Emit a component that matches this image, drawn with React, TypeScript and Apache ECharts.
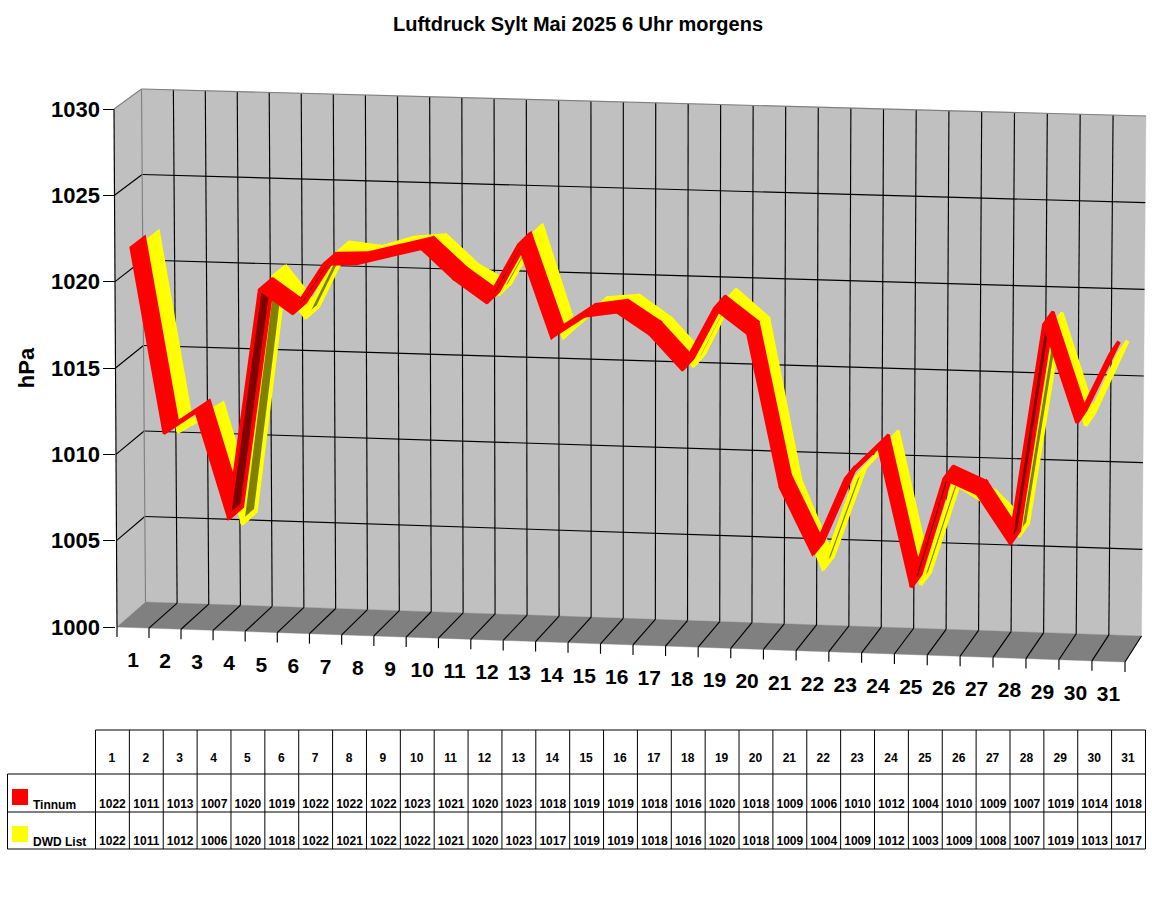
import React, { useEffect, useRef } from "react";
import * as echarts from "echarts";

const TITLE = "Luftdruck Sylt Mai 2025 6 Uhr morgens";
const days = Array.from({ length: 31 }, (_, i) => String(i + 1));
const pressureTicks = [1005, 1010, 1015, 1020, 1025];

// values (plotted with decimals)
const tinnumPlot = [1022.0, 1011.3, 1012.6, 1006.5, 1019.8, 1018.5, 1021.4, 1021.5, 1022.0, 1022.5, 1020.8, 1019.5, 1022.9, 1017.6, 1018.9, 1019.2, 1018.0, 1016.0, 1019.6, 1018.2, 1009.4, 1005.6, 1010.0, 1011.9, 1003.9, 1010.2, 1009.4, 1006.6, 1019.3, 1013.7, 1017.7];
const dwdPlot = [1021.7, 1010.7, 1011.8, 1005.5, 1019.9, 1017.6, 1021.4, 1021.2, 1021.8, 1022.0, 1020.3, 1019.3, 1022.7, 1016.9, 1018.6, 1018.8, 1017.5, 1015.5, 1019.3, 1017.7, 1008.4, 1004.0, 1009.3, 1011.4, 1003.3, 1009.2, 1008.1, 1006.3, 1018.5, 1012.8, 1017.0];
// values printed in the data table
const tinnumTable = [1022, 1011, 1013, 1007, 1020, 1019, 1022, 1022, 1022, 1023, 1021, 1020, 1023, 1018, 1019, 1019, 1018, 1016, 1020, 1018, 1009, 1006, 1010, 1012, 1004, 1010, 1009, 1007, 1019, 1014, 1018];
const dwdTable = [1022, 1011, 1012, 1006, 1020, 1018, 1022, 1021, 1022, 1022, 1021, 1020, 1023, 1017, 1019, 1019, 1018, 1016, 1020, 1018, 1009, 1004, 1009, 1012, 1003, 1009, 1008, 1007, 1019, 1013, 1017];

const FONT = '"Liberation Sans", Arial, sans-serif';
const GL = 115, GT = 109, GW = 1008, GH = 518;
const GB = GT + GH;

type P = [number, number];
const lerp = (a: P, b: P, t: number): P => [a[0] + (b[0] - a[0]) * t, a[1] + (b[1] - a[1]) * t];
// projected box corners
const FB0: P = [117, 627], FB1: P = [1125, 662];
const FT0: P = [114, 109], FT1: P = [1128, 142];
const BB0: P = [145.5, 602], BB1: P = [1141.5, 636];
const BT0: P = [141.5, 89], BT1: P = [1146, 116];
const PERSPECTIVE = 0.017;
function project(uIn: number, v: number, d: number): P {
  const u = uIn / (1 + PERSPECTIVE * (1 - uIn));
  const bottom = lerp(lerp(FB0, FB1, u), lerp(BB0, BB1, u), d);
  const top = lerp(lerp(FT0, FT1, u), lerp(BT0, BT1, u), d);
  return lerp(bottom, top, v);
}
const toUV = (c: number[]) => [(c[0] - GL) / GW, (GB - c[1]) / GH];

function sceneItem(_p: any, api: any) {
  const children: any[] = [];
  const poly = (points: P[], fill: string) => children.push({ type: "polygon", shape: { points }, style: { fill, stroke: fill, lineWidth: 0.4 } });
  const line = (a: P, b: P, stroke = "#000", lineWidth = 1.15) =>
    children.push({ type: "line", shape: { x1: a[0], y1: a[1], x2: b[0], y2: b[1] }, style: { stroke, lineWidth } });
  poly([project(0, 0, 1), project(1, 0, 1), project(1, 1, 1), project(0, 1, 1)], "#C0C0C0");
  poly([project(0, 0, 0), project(0, 0, 1), project(0, 1, 1), project(0, 1, 0)], "#C0C0C0");
  poly([project(0, 0, 0), project(1, 0, 0), project(1, 0, 1), project(0, 0, 1)], "#808080");
  pressureTicks.forEach((t) => {
    const v = toUV(api.coord([0, t]))[1];
    line(project(0, v, 0), project(0, v, 1));
    line(project(0, v, 1), project(1, v, 1));
  });
  const n = days.length;
  for (let k = 0; k <= n; k++) {
    const u = k / n;
    if (k > 0 && k < n) line(project(u, 0, 1), project(u, 1, 1));
    if (k > 0) line(project(u, 0, 0), project(u, 0, 1));
    const f = project(u, 0, 0);
    line(f, [f[0], f[1] + 10]);
  }
  line(project(0, 0, 0), project(0, 1, 0));
  line(project(0, 1, 0), project(0, 1, 1), "#808080");
  line(project(0, 0, 1), project(0, 1, 1), "#808080");
  line(project(0, 1, 1), project(1, 1, 1), "#808080");
  return { type: "group", children };
}

function ribbonItem(d0: number, d1: number, bright: string, dark: string) {
  return (_p: any, api: any) => {
    const [u0, v0] = toUV(api.coord([api.value(0), api.value(1)]));
    const [u1, v1] = toUV(api.coord([api.value(2), api.value(3)]));
    const f0 = project(u0, v0, d0), f1 = project(u1, v1, d0);
    const b0 = project(u0, v0, d1), b1 = project(u1, v1, d1);
    const ux = f1[0] - f0[0], uy = f1[1] - f0[1];
    const dx = b0[0] - f0[0], dy = b0[1] - f0[1];
    const len = Math.hypot(ux, uy);
    const cross = ux * dy - uy * dx;
    const rising = cross > 0;
    const children: any[] = [
      { type: "polygon", shape: { points: [f0, f1, b1, b0] }, style: { fill: bright, stroke: bright, lineWidth: rising ? 4 : 2.8, lineJoin: "miter", miterLimit: 2 } },
    ];
    if (rising) {
      const w = cross / len;
      const inset = 2 / w;
      if (inset < 0.5) {
        const along = Math.min(5 / len, 0.3);
        const pt = (s: number, d: number): P => {
          const a = lerp(f0, f1, s), b = lerp(b0, b1, s);
          return lerp(a, b, d);
        };
        children.push({
          type: "polygon",
          shape: { points: [pt(along, inset), pt(1 - along, inset), pt(1 - along, 1 - inset), pt(along, 1 - inset)] },
          style: { fill: dark },
        });
      }
    }
    return { type: "group", children };
  };
}

function dayLabelItem(_p: any, api: any) {
  const u = toUV(api.coord([api.value(0), 1000]))[0];
  const p = project(u, 0, 0);
  return {
    type: "text",
    style: { text: days[api.value(0)], x: p[0], y: p[1] + 32, fill: "#000", font: `bold 21px ${FONT}`, textAlign: "center", textVerticalAlign: "middle" },
  };
}

const segments = (vals: number[]) => vals.slice(0, -1).map((v, i) => [i, v, i + 1, vals[i + 1]]);

function tableGraphics() {
  const els: any[] = [];
  const X0 = 95.5, CW = 33.87, LEFT = 7.5;
  const Y = [730, 774, 812, 849];
  const right = X0 + CW * 31;
  const hl = (x1: number, x2: number, y: number) => els.push({ type: "line", shape: { x1, y1: y, x2, y2: y }, style: { stroke: "#000", lineWidth: 1 } });
  const vl = (x: number, y1: number, y2: number) => els.push({ type: "line", shape: { x1: x, y1, x2: x, y2 }, style: { stroke: "#000", lineWidth: 1 } });
  hl(X0, right, Y[0]);
  hl(LEFT, right, Y[1]);
  hl(LEFT, right, Y[2]);
  hl(LEFT, right, Y[3]);
  vl(LEFT, Y[1], Y[3]);
  for (let i = 0; i <= 31; i++) vl(X0 + CW * i, Y[0], Y[3]);
  const text = (t: string, x: number, y: number, align = "center") =>
    els.push({ type: "text", x, y, style: { text: t, fill: "#000", font: `bold 12px ${FONT}`, textAlign: align, textVerticalAlign: "middle" } });
  days.forEach((d, i) => {
    const cx = X0 + CW * (i + 0.5);
    text(d, cx - 0.5, 758);
    text(String(tinnumTable[i]), cx, 804);
    text(String(dwdTable[i]), cx, 841);
  });
  els.push({ type: "rect", shape: { x: 12, y: 789, width: 16, height: 16 }, style: { fill: "#FF0000" } });
  els.push({ type: "rect", shape: { x: 12, y: 826, width: 16, height: 16 }, style: { fill: "#FFFF00" } });
  text("Tinnum", 33, 804.5, "left");
  text("DWD List", 33, 841.5, "left");
  return els;
}

export default function App() {
  const ref = useRef<HTMLDivElement>(null);
  useEffect(() => {
    const chart = echarts.init(ref.current!, undefined, { renderer: "svg" });
    chart.setOption({
      animation: false,
      backgroundColor: "#fff",
      title: {
        text: TITLE, left: 573, top: 9, textAlign: "center",
        textStyle: { fontFamily: FONT, fontWeight: "bold", fontSize: 20, color: "#000" },
      },
      grid: { left: GL, top: GT, width: GW, height: GH },
      xAxis: { type: "category", data: days, show: false },
      yAxis: {
        type: "value", min: 1000, max: 1030, interval: 5,
        name: "hPa", nameLocation: "middle", nameGap: 78,
        nameTextStyle: { fontFamily: FONT, fontWeight: "bold", fontSize: 22, color: "#000" },
        splitLine: { show: false },
        axisLine: { show: false },
        axisTick: { show: true, length: 12, lineStyle: { color: "#000" } },
        axisLabel: { fontFamily: FONT, fontWeight: "bold", fontSize: 22, color: "#000", margin: 15, formatter: (v: number) => String(v) },
      },
      graphic: tableGraphics(),
      series: [
        { type: "custom", name: "walls", renderItem: sceneItem, data: [[0, 1000]], silent: true, clip: false, z: 1 },
        { type: "custom", name: "DWD List", renderItem: ribbonItem(0.5, 1, "#FFFF00", "#808000"), data: segments(dwdPlot), silent: true, clip: false, z: 2 },
        { type: "custom", name: "Tinnum", renderItem: ribbonItem(0, 0.5, "#FF0000", "#800000"), data: segments(tinnumPlot), silent: true, clip: false, z: 3 },
        { type: "custom", name: "days", renderItem: dayLabelItem, data: days.map((_, i) => [i, 1000]), silent: true, clip: false, z: 4 },
      ],
    });
    return () => chart.dispose();
  }, []);
  return <div ref={ref} style={{ position: "absolute", left: 0, top: 0, width: 1152, height: 900 }} />;
}
